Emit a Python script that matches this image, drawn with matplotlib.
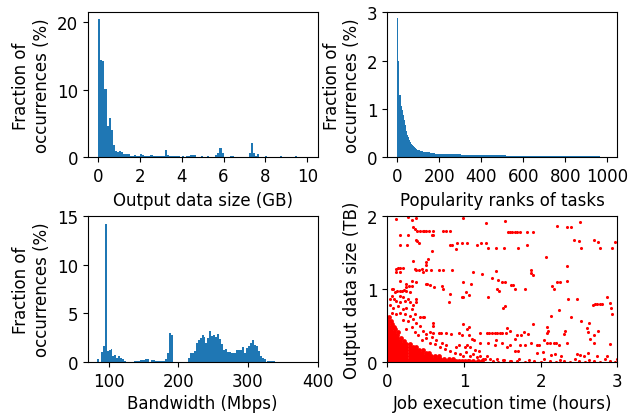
import numpy as np
import matplotlib
matplotlib.use("Agg")
import matplotlib.pyplot as plt

# --- output data size histogram (GB), 0.1 GB bins from 0 to 10
size_heights = [
    20.5, 14.5, 14.25, 10.2, 4.67, 5.85, 4.03, 1.82, 0.93, 0.84,
    0.93, 0.79, 0.49, 0.49, 0.54, 0.25, 0.2, 0.34, 0.2, 0.2,
    0.49, 0.39, 0.2, 0.2, 0.2, 0.34, 0.2, 0.2, 0.2, 0.2,
    0.2, 0.2, 1.13, 0.34, 0.15, 0.2, 0.15, 0.2, 0.2, 0.1,
    0.2, 0.1, 0.2, 0.2, 0.3, 0.34, 0.34, 0.05, 0.05, 0.2,
    0.05, 0.05, 0.2, 0.05, 0.05, 0.05, 0.34, 0.69, 1.38, 0.69,
    0, 0, 0, 0.2, 0.2, 0.05, 0.05, 0.05, 0.05, 0.05,
    0.05, 0.05, 0.69, 2.1, 0.69, 0.25, 0.5, 0, 0, 0,
    0.15, 0.05, 0.05, 0.05, 0.05, 0.05, 0.05, 0.2, 0.05, 0.05,
    0.05, 0.05, 0.05, 0.05, 0.2, 0.05, 0.05, 0.05, 0.05, 0.05,
]
size_edges = np.linspace(0, 10, len(size_heights) + 1)

# --- popularity ranks of tasks
rank_edges = [0, 5, 10, 15, 20, 25, 30, 35, 40, 45, 50, 55, 60, 65, 70, 75, 80,
              85, 90, 95, 100, 110, 120, 135, 155, 178, 305, 516, 965]
rank_heights = [2.88, 2.0, 1.29, 1.06, 0.98, 0.875, 0.77, 0.67, 0.54, 0.46,
                0.41, 0.36, 0.32, 0.28, 0.25, 0.23, 0.21, 0.19, 0.17, 0.16,
                0.145, 0.13, 0.12, 0.10, 0.09, 0.072, 0.048, 0.027]

# --- bandwidth histogram (Mbps)
bw_start, bw_width = 83.3, 2.78
bw_heights = [
    0.34, 0, 1.06, 1.68, 14.2, 1.16, 1.27, 1.37, 0.68, 0.75,
    0.48, 0.62, 0.45, 0.31, 0.17, 0.07, 0, 0, 0, 0.14,
    0.14, 0.14, 0.24, 0.24, 0.24, 0.34, 0.34, 0, 0.24, 0.24,
    0.14, 0.14, 0.14, 0.14, 0.14, 0.34, 0.96, 3.0, 2.8, 0,
    0, 0, 0, 0, 0, 0, 0,
    0.45, 0.96, 0.96, 1.16, 2.0, 2.3, 2.53, 2.8, 2.6, 2.0,
    2.53, 3.2, 2.64, 2.8, 2.6, 2.9, 2.43, 1.92, 1.27, 1.37,
    1.1, 1.1, 1.0, 1.0, 1.0, 1.27, 1.27, 1.27, 1.58, 1.0,
    1.47, 1.68, 2.0, 2.3, 1.78, 1.68, 1.16, 0.65, 0.45, 0.34,
    0, 0.14, 0.14, 0.14, 0.14,
]
bw_edges = bw_start + bw_width * np.arange(len(bw_heights) + 1)

# --- job execution time (hours) vs output size (TB): scattered jobs
job_hours = [
    0.12, 0.27, 0.32, 0.37, 0.99, 1.29, 1.53, 2.22, 2.34, 2.39, 2.52,
    0.34, 0.36, 0.39, 0.43, 0.46, 0.48, 0.51, 0.55, 0.60, 0.73, 0.77, 0.82,
    1.58, 1.60, 1.63, 1.66, 1.69, 1.73, 1.82, 1.90,
    0.16, 0.27, 0.37, 0.39, 0.41, 0.58, 0.60, 0.91, 0.98, 1.04,
    2.43, 2.50, 2.70, 2.75, 2.97, 0.16, 0.26, 0.82, 0.85, 0.89,
    1.17, 1.22, 1.29, 1.32, 1.42, 1.52, 1.71, 1.82, 2.53, 2.77, 2.93,
    0.58, 0.33, 0.53, 0.51, 2.07,
    0.12, 0.14, 0.17, 0.21, 0.11, 0.17,
    0.36, 0.38, 0.42, 0.45, 0.51, 0.57, 0.68, 0.73, 0.85, 0.50, 0.47,
    2.35, 1.88, 1.87, 0.17, 0.32, 1.12, 1.09, 0.99,
    1.42, 1.37, 1.45, 1.50, 1.53, 1.24, 1.61, 1.79, 1.90,
    2.21, 2.15, 2.17, 2.25, 2.34, 0.06, 0.08,
    0.24, 0.25, 0.28, 0.32, 0.38, 0.50, 0.52, 0.56, 0.61, 0.71, 0.73,
    0.97, 0.99, 1.06, 1.03, 1.32, 1.46, 1.43, 1.64, 1.67,
    2.36, 2.48, 2.87, 0.82, 0.81, 0.38, 0.37, 0.30, 0.34,
    2.90, 2.92, 2.93, 2.68, 2.71, 2.74, 2.77, 2.80, 1.53, 1.51,
    0.43, 0.46, 0.48, 2.24, 2.13, 2.40, 2.53, 2.63,
    0.59, 0.59, 0.99, 1.07, 1.04, 1.56, 2.08, 2.10, 2.08,
    0.56, 0.51, 0.60, 0.67, 0.70, 0.77, 0.83, 0.93, 1.06, 0.97,
    1.21, 1.30, 1.33, 1.36, 1.40, 1.43, 1.47, 1.50, 1.55,
    1.60, 1.69, 1.75, 1.78, 1.83, 1.90,
    2.05, 2.08, 2.12, 2.17, 2.20, 2.24, 2.32, 2.31, 2.35,
    2.60, 2.62, 2.69, 2.75, 2.65, 2.69, 2.90,
    1.67, 1.73, 1.80, 1.87, 1.95, 1.98,
    1.10, 1.13, 1.21, 1.32, 1.40, 1.42, 1.49, 1.56, 1.60,
    0.90, 0.94, 1.01, 1.04, 1.08, 1.14, 1.19,
    1.67, 1.71, 1.95, 2.03, 2.14, 2.19, 2.27, 2.47, 2.51, 2.56, 2.62, 2.73, 2.86,
    0.03, 0.06, 0.10, 0.13, 0.16, 0.19, 0.22, 0.25, 0.29, 0.17, 0.21,
    0.09, 0.12, 0.17, 0.23, 0.27, 0.03, 0.08, 0.14, 0.20, 0.25, 0.32,
    0.06, 0.11, 0.17, 0.23, 0.30, 0.36, 0.34, 0.27, 0.21, 0.38, 0.43,
    0.32, 0.25, 0.47, 0.40, 0.36, 0.51, 0.45, 0.56, 0.62, 0.69, 0.75,
    0.82, 0.88, 0.95, 0.99, 1.08, 1.17, 1.25, 1.34, 1.43, 1.51, 1.60,
    1.69, 1.21, 1.30, 1.03, 1.12, 0.77, 0.71, 0.64, 0.58,
    1.05, 1.15, 1.27, 1.38, 1.45, 1.52, 1.62, 1.72, 1.80, 1.85, 1.92,
    2.00, 2.05, 2.12, 2.20, 2.25, 2.30, 2.38, 2.45, 2.50, 2.58, 2.63,
    2.70, 2.78, 2.84, 2.90, 2.97, 3.00,
]
job_tb = [
    1.96, 1.99, 1.95, 1.97, 1.98, 1.91, 1.93, 1.87, 1.85, 1.85, 1.92,
    1.85, 1.83, 1.80, 1.80, 1.80, 1.80, 1.80, 1.80, 1.80, 1.80, 1.80, 1.80,
    1.79, 1.79, 1.79, 1.79, 1.79, 1.79, 1.79, 1.79,
    1.74, 1.74, 1.68, 1.66, 1.64, 1.74, 1.74, 1.64, 1.64, 1.64,
    1.67, 1.66, 1.67, 1.65, 1.65, 1.61, 1.61, 1.60, 1.60, 1.55,
    1.60, 1.63, 1.63, 1.57, 1.57, 1.57, 1.57, 1.61, 1.57, 1.56, 1.56,
    1.52, 1.39, 1.42, 1.37, 1.44,
    1.28, 1.29, 1.29, 1.29, 1.23, 1.24,
    1.28, 1.27, 1.27, 1.28, 1.27, 1.27, 1.27, 1.27, 1.27, 1.33, 1.23,
    1.32, 1.27, 1.22, 1.12, 1.12, 1.23, 1.07, 1.10,
    1.25, 1.16, 1.13, 1.10, 1.10, 1.21, 1.06, 1.00, 1.19,
    1.10, 1.05, 1.00, 1.10, 1.11, 1.00, 1.00,
    1.07, 1.03, 1.04, 1.04, 1.10, 1.07, 1.07, 1.06, 1.03, 1.04, 1.00,
    0.89, 0.90, 0.92, 0.96, 0.90, 0.98, 1.01, 1.06, 1.00,
    0.87, 0.87, 0.89, 0.93, 0.83, 0.87, 0.82, 0.82, 0.78,
    0.81, 0.74, 0.66, 0.78, 0.80, 0.80, 0.80, 0.80, 0.77, 0.75,
    0.62, 0.62, 0.62, 0.72, 0.64, 0.62, 0.56, 0.54,
    0.54, 0.50, 0.53, 0.49, 0.46, 0.47, 0.48, 0.43, 0.40,
    0.41, 0.39, 0.40, 0.40, 0.40, 0.40, 0.39, 0.40, 0.37, 0.37,
    0.40, 0.40, 0.40, 0.40, 0.40, 0.40, 0.40, 0.40, 0.40,
    0.43, 0.37, 0.37, 0.42, 0.39, 0.53,
    0.30, 0.26, 0.26, 0.26, 0.26, 0.23, 0.43, 0.39, 0.27,
    0.47, 0.41, 0.37, 0.43, 0.32, 0.27, 0.25,
    0.32, 0.23, 0.23, 0.26, 0.24, 0.23,
    0.32, 0.30, 0.27, 0.26, 0.23, 0.30, 0.27, 0.21, 0.23,
    0.21, 0.23, 0.21, 0.23, 0.21, 0.17, 0.16,
    0.16, 0.15, 0.13, 0.14, 0.10, 0.11, 0.09, 0.12, 0.10, 0.09, 0.13, 0.09, 0.09,
    0.87, 0.91, 0.96, 0.98, 0.97, 0.98, 0.99, 0.98, 0.96, 0.91, 0.90,
    0.87, 0.84, 0.82, 0.84, 0.87, 0.78, 0.75, 0.77, 0.73, 0.75, 0.73,
    0.68, 0.66, 0.68, 0.66, 0.64, 0.66, 0.59, 0.57, 0.58, 0.54, 0.50,
    0.48, 0.46, 0.43, 0.37, 0.41, 0.33, 0.30, 0.27, 0.25, 0.21, 0.18,
    0.16, 0.13, 0.11, 0.09, 0.08, 0.07, 0.05, 0.05, 0.04, 0.03, 0.02,
    0.02, 0.09, 0.08, 0.14, 0.11, 0.23, 0.27, 0.30, 0.34,
    0.03, 0.01, 0.04, 0.02, 0.01, 0.03, 0.02, 0.04, 0.01, 0.03, 0.02,
    0.01, 0.04, 0.02, 0.01, 0.03, 0.02, 0.01, 0.04, 0.02, 0.01, 0.03,
    0.02, 0.01, 0.04, 0.02, 0.01, 0.05,
]

# --- the crowded corner of short jobs with small output, row by row
crowd_tb = [0.015, 0.05, 0.09, 0.13, 0.17, 0.21, 0.25, 0.29, 0.33, 0.37,
            0.41, 0.45, 0.49, 0.53, 0.57, 0.62]
crowd_hours = [
    [0.01, 0.05, 0.09, 0.13, 0.17, 0.21, 0.25, 0.29, 0.33, 0.37, 0.41, 0.45, 0.49,
     0.53, 0.57, 0.61, 0.65, 0.69, 0.73, 0.77, 0.81, 0.85, 0.89, 0.93, 0.97, 1.01,
     1.06, 1.12, 1.18, 1.24],
    [0.01, 0.05, 0.09, 0.13, 0.17, 0.21, 0.25, 0.29, 0.33, 0.37, 0.41, 0.45, 0.49,
     0.53, 0.57, 0.61, 0.65, 0.69, 0.74, 0.80, 0.86],
    [0.01, 0.05, 0.09, 0.13, 0.17, 0.21, 0.25, 0.29, 0.33, 0.37, 0.41, 0.45, 0.49,
     0.53, 0.57, 0.62, 0.68],
    [0.01, 0.05, 0.09, 0.13, 0.17, 0.21, 0.25, 0.29, 0.33, 0.37, 0.41, 0.45, 0.50, 0.55],
    [0.01, 0.05, 0.09, 0.13, 0.17, 0.21, 0.25, 0.29, 0.33, 0.37, 0.41, 0.46],
    [0.01, 0.05, 0.09, 0.13, 0.17, 0.21, 0.25, 0.29, 0.33, 0.38],
    [0.01, 0.05, 0.09, 0.13, 0.17, 0.21, 0.25, 0.30],
    [0.01, 0.05, 0.09, 0.13, 0.17, 0.22],
    [0.01, 0.05, 0.09, 0.13, 0.18],
    [0.01, 0.05, 0.09, 0.13],
    [0.01, 0.05, 0.09, 0.14],
    [0.01, 0.05, 0.10],
    [0.01, 0.05, 0.09],
    [0.01, 0.06],
    [0.01, 0.05],
    [0.02],
]

blue = '#1f77b4'
plt.rcParams['font.size'] = 12

fig = plt.figure(figsize=(6.41, 4.14), dpi=100)
ax1 = fig.add_axes([0.1368, 0.6176, 0.3588, 0.3502])
ax2 = fig.add_axes([0.6042, 0.6176, 0.3588, 0.3502])
ax3 = fig.add_axes([0.1368, 0.1225, 0.3588, 0.3540])
ax4 = fig.add_axes([0.6042, 0.1225, 0.3588, 0.3527])

# output data size
ax1.bar(size_edges[:-1], size_heights, width=np.diff(size_edges), align='edge',
        color=blue, linewidth=0)
ax1.set_xlim(-0.5, 10.5)
ax1.set_ylim(0, 21.5)
ax1.set_xticks(range(0, 11, 2))
ax1.set_yticks([0, 10, 20])
ax1.set_xlabel('Output data size (GB)')
ax1.set_ylabel('Fraction of\noccurrences (%)')

# popularity ranks
ax2.stairs(rank_heights, rank_edges, fill=True, color=blue, linewidth=0)
ax2.set_xlim(-48, 1047)
ax2.set_ylim(0, 3)
ax2.set_xticks(range(0, 1001, 200))
ax2.set_yticks([0, 1, 2, 3])
ax2.set_xlabel('Popularity ranks of tasks')
ax2.set_ylabel('Fraction of\noccurrences (%)')

# bandwidth
ax3.bar(bw_edges[:-1], bw_heights, width=np.diff(bw_edges), align='edge',
        color=blue, linewidth=0)
ax3.set_xlim(70, 400)
ax3.set_ylim(0, 15)
ax3.set_xticks([100, 200, 300, 400])
ax3.set_yticks([0, 5, 10, 15])
ax3.set_xlabel('Bandwidth (Mbps)')
ax3.set_ylabel('Fraction of\noccurrences (%)')

# job time vs output size
crowd_x = [h for row in crowd_hours for h in row]
crowd_y = [t for t, row in zip(crowd_tb, crowd_hours) for _ in row]
ax4.scatter(crowd_x, crowd_y, s=12, color='red', linewidths=0)
ax4.scatter(job_hours, job_tb, s=5, color='red', linewidths=0)
ax4.set_xlim(0, 3)
ax4.set_ylim(0, 2)
ax4.set_xticks([0, 1, 2, 3])
ax4.set_yticks([0, 1, 2])
ax4.set_xlabel('Job execution time (hours)', labelpad=3)
ax4.set_ylabel('Output data size (TB)')
ax3.xaxis.labelpad = 3

fig.savefig('out.png', dpi=100)
